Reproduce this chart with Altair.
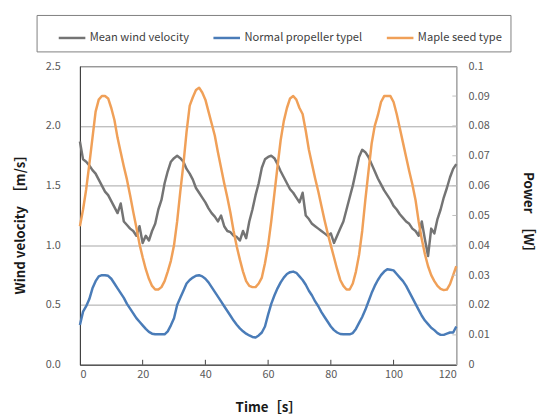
import altair as alt
import pandas as pd

# ---------------- data ----------------
series_names = ["Mean wind velocity", "Normal propeller typel", "Maple seed type"]
series_colors = ["#747474", "#4a7cb8", "#f0a058"]

t_sec = list(range(0, 121))

# Mean wind velocity [m/s] (left axis)
wind = [1.87, 1.72, 1.70, 1.67, 1.63, 1.60, 1.55, 1.50, 1.45, 1.42,
        1.37, 1.32, 1.27, 1.35, 1.20, 1.17, 1.14, 1.12, 1.08, 1.16,
        1.02, 1.08, 1.04, 1.12, 1.18, 1.30, 1.38, 1.52, 1.62, 1.70,
        1.73, 1.75, 1.73, 1.70, 1.64, 1.60, 1.55, 1.48, 1.44, 1.40,
        1.36, 1.31, 1.27, 1.24, 1.20, 1.25, 1.16, 1.12, 1.11, 1.08,
        1.07, 1.04, 1.12, 1.06, 1.20, 1.30, 1.42, 1.52, 1.65, 1.72,
        1.74, 1.75, 1.73, 1.68, 1.62, 1.57, 1.52, 1.47, 1.44, 1.40,
        1.36, 1.44, 1.25, 1.22, 1.18, 1.16, 1.14, 1.12, 1.10, 1.08,
        1.10, 1.02, 1.08, 1.14, 1.20, 1.30, 1.40, 1.50, 1.62, 1.74,
        1.80, 1.78, 1.74, 1.68, 1.62, 1.56, 1.51, 1.46, 1.42, 1.38,
        1.33, 1.30, 1.26, 1.23, 1.20, 1.18, 1.14, 1.12, 1.08, 1.20,
        1.05, 0.91, 1.14, 1.10, 1.22, 1.30, 1.40, 1.48, 1.57, 1.64,
        1.68]

# Normal propeller type power [W] (right axis)
normal = [0.0133, 0.0178, 0.0196, 0.0220, 0.0256, 0.0280, 0.0296, 0.0300, 0.0300, 0.0298,
          0.0288, 0.0272, 0.0256, 0.0240, 0.0224, 0.0204, 0.0188, 0.0172, 0.0156, 0.0144,
          0.0132, 0.0120, 0.0110, 0.0104, 0.0102, 0.0102, 0.0102, 0.0102, 0.0112, 0.0132,
          0.0156, 0.0200, 0.0224, 0.0248, 0.0272, 0.0284, 0.0292, 0.0298, 0.0300, 0.0296,
          0.0288, 0.0276, 0.0260, 0.0244, 0.0228, 0.0212, 0.0196, 0.0180, 0.0164, 0.0148,
          0.0134, 0.0122, 0.0112, 0.0104, 0.0098, 0.0093, 0.0091, 0.0098, 0.0108, 0.0128,
          0.0168, 0.0204, 0.0232, 0.0256, 0.0276, 0.0292, 0.0304, 0.0310, 0.0312, 0.0308,
          0.0296, 0.0284, 0.0268, 0.0248, 0.0232, 0.0212, 0.0196, 0.0176, 0.0160, 0.0144,
          0.0128, 0.0116, 0.0108, 0.0103, 0.0102, 0.0102, 0.0102, 0.0106, 0.0120, 0.0140,
          0.0160, 0.0184, 0.0212, 0.0240, 0.0264, 0.0284, 0.0300, 0.0312, 0.0320, 0.0318,
          0.0316, 0.0304, 0.0292, 0.0280, 0.0264, 0.0244, 0.0224, 0.0204, 0.0184, 0.0164,
          0.0148, 0.0136, 0.0124, 0.0116, 0.0106, 0.0100, 0.0100, 0.0104, 0.0108, 0.0108,
          0.0128]

# Maple seed type power [W] (right axis)
maple = [0.0464, 0.0520, 0.0588, 0.0672, 0.0760, 0.0848, 0.0888, 0.0900, 0.0900, 0.0892,
         0.0860, 0.0820, 0.0760, 0.0712, 0.0664, 0.0620, 0.0568, 0.0512, 0.0460, 0.0404,
         0.0360, 0.0320, 0.0288, 0.0264, 0.0252, 0.0252, 0.0260, 0.0280, 0.0312, 0.0348,
         0.0400, 0.0480, 0.0580, 0.0672, 0.0780, 0.0868, 0.0896, 0.0920, 0.0928, 0.0912,
         0.0888, 0.0848, 0.0808, 0.0768, 0.0712, 0.0660, 0.0608, 0.0560, 0.0508, 0.0448,
         0.0396, 0.0352, 0.0312, 0.0280, 0.0264, 0.0260, 0.0260, 0.0272, 0.0292, 0.0340,
         0.0400, 0.0480, 0.0572, 0.0664, 0.0752, 0.0816, 0.0860, 0.0892, 0.0900, 0.0888,
         0.0860, 0.0840, 0.0784, 0.0720, 0.0672, 0.0624, 0.0580, 0.0532, 0.0484, 0.0440,
         0.0400, 0.0360, 0.0320, 0.0284, 0.0264, 0.0252, 0.0252, 0.0272, 0.0312, 0.0368,
         0.0448, 0.0552, 0.0648, 0.0740, 0.0800, 0.0836, 0.0880, 0.0900, 0.0900, 0.0900,
         0.0880, 0.0840, 0.0792, 0.0744, 0.0696, 0.0648, 0.0604, 0.0552, 0.0480, 0.0420,
         0.0370, 0.0330, 0.0300, 0.0280, 0.0264, 0.0254, 0.0250, 0.0252, 0.0270, 0.0300,
         0.0330]

x_ticks = [0, 20, 40, 60, 80, 100, 120]
left_ticks = [0.0, 0.5, 1.0, 1.5, 2.0, 2.5]
right_ticks = [0, 0.01, 0.02, 0.03, 0.04, 0.05, 0.06, 0.07, 0.08, 0.09, 0.1]

# ---------------- frames ----------------
wind_df = pd.DataFrame({"t": t_sec, "v": wind, "series": series_names[0]})
power_df = pd.concat([
    pd.DataFrame({"t": t_sec, "p": normal, "series": series_names[1]}),
    pd.DataFrame({"t": t_sec, "p": maple, "series": series_names[2]}),
])
xtick_df = pd.DataFrame({"t": x_ticks[1:-1]})
rtick_df = pd.DataFrame({"p": right_ticks[1:-1]})

W, H = 382, 303
FONT = "Noto Sans CJK JP"

x_scale = alt.Scale(domain=[0, 120], nice=False, zero=False)
left_scale = alt.Scale(domain=[0, 2.5], nice=False)
right_scale = alt.Scale(domain=[0, 0.1], nice=False)
color_scale = alt.Scale(domain=series_names, range=series_colors)

x_axis = alt.Axis(values=x_ticks, format="d", title="Time［s］", ticks=False,
                  labelPadding=4, grid=False, domainColor="#404040",
                  titleX=191, titleY=43, titleBaseline="middle", titleAlign="center")

right_axis = alt.Axis(orient="right", values=right_ticks, format="~g",
                      title="Power　［W］", ticks=False, labelPadding=12, grid=False,
                      domainColor="#bfbfbf",
                      titleX=72, titleY=151, titleAngle=90,
                      titleAlign="center", titleBaseline="middle")

color_enc = alt.Color("series:N", scale=color_scale,
                      legend=alt.Legend(title=" ", titleOrient="left", titlePadding=13,
                                        orient="none", legendX=-44, legendY=-52,
                                        direction="horizontal", columnPadding=19,
                                        symbolType="stroke", symbolSize=729,
                                        symbolStrokeWidth=2.5, labelOffset=3,
                                        strokeColor="#7f7f7f", padding=8,
                                        labelFontSize=11.3, labelColor="#404040",
                                        labelFont=FONT))

wind_line = alt.Chart(wind_df).mark_line(strokeWidth=2.5, strokeJoin="round").encode(
    x=alt.X("t:Q", scale=x_scale, axis=x_axis),
    y=alt.Y("v:Q", scale=left_scale,
            axis=alt.Axis(values=left_ticks, format=".1f", title="Wind velocity　［m/s］",
                          ticks=False, labelPadding=20, grid=True, gridColor="#a6a6a6",
                          domainColor="#404040",
                          titleX=-60, titleY=157, titleAngle=270,
                          titleAlign="center", titleBaseline="middle")),
    color=color_enc,
)
xtick_rules = alt.Chart(xtick_df).mark_rule(color="#404040", strokeWidth=1).encode(
    x=alt.X("t:Q", scale=x_scale),
    y=alt.value(H - 5),
    y2=alt.value(H),
)
left_layer = alt.layer(wind_line, xtick_rules)

power_lines = alt.Chart(power_df).mark_line(strokeWidth=2.5, strokeJoin="round").encode(
    x=alt.X("t:Q", scale=x_scale),
    y=alt.Y("p:Q", scale=right_scale, axis=right_axis),
    color=color_enc,
)
rtick_rules = alt.Chart(rtick_df).mark_rule(color="#bfbfbf", strokeWidth=1).encode(
    y=alt.Y("p:Q", scale=right_scale, axis=right_axis),
    x=alt.value(W - 4),
    x2=alt.value(W),
)
right_layer = alt.layer(power_lines, rtick_rules)

chart = alt.layer(left_layer, right_layer).resolve_scale(y="independent").properties(
    width=W, height=H,
    padding={"left": 73, "top": 56, "right": 88, "bottom": 52},
    autosize=alt.AutoSizeParams(type="none"),
    background="white",
).configure_view(stroke="#404040", strokeWidth=1).configure_axis(
    labelFont=FONT, labelFontSize=11, labelColor="#595959",
    titleFont=FONT, titleFontSize=13.5, titleFontWeight="bold", titleColor="#1a1a1a",
)

chart.save("out.html", embed_options={"renderer": "svg", "actions": False})
